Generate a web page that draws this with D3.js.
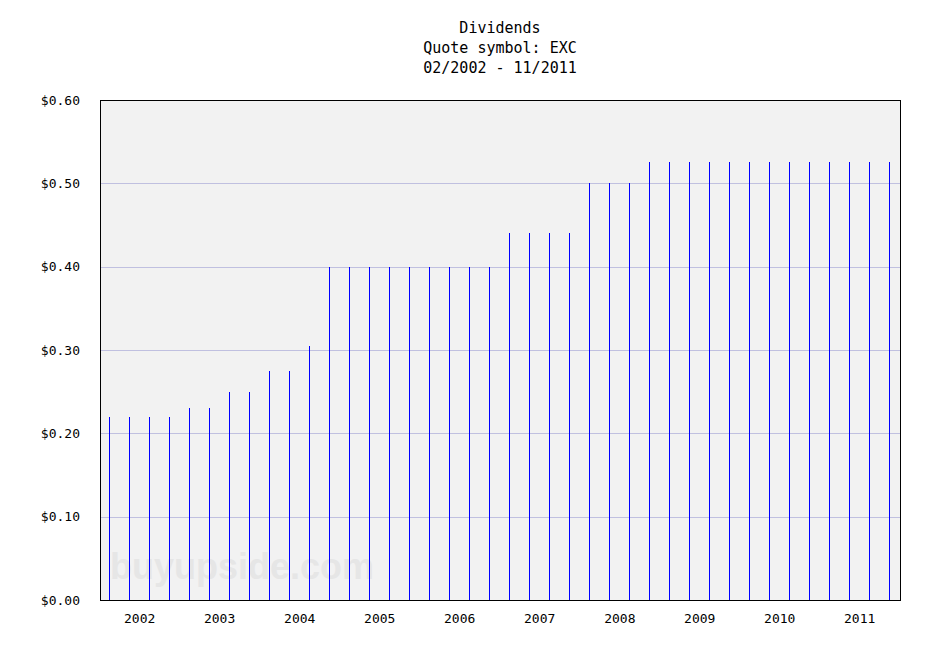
<!DOCTYPE html>
<html><head><meta charset="utf-8">
<script src="https://cdn.jsdelivr.net/npm/d3@7"></script>
<style>body{margin:0;background:#fff}</style>
</head><body>
<svg id="c" width="950" height="650"></svg>
<script>
const dates = ["2002-02-10","2002-05-12","2002-08-12","2002-11-12",
"2003-02-10","2003-05-12","2003-08-12","2003-11-12",
"2004-02-10","2004-05-12","2004-08-12","2004-11-12",
"2005-02-10","2005-05-12","2005-08-12","2005-11-12",
"2006-02-10","2006-05-12","2006-08-12","2006-11-12",
"2007-02-10","2007-05-12","2007-08-12","2007-11-12",
"2008-02-10","2008-05-12","2008-08-12","2008-11-12",
"2009-02-10","2009-05-12","2009-08-12","2009-11-12",
"2010-02-10","2010-05-12","2010-08-12","2010-11-12",
"2011-02-10","2011-05-12","2011-08-12","2011-11-12"];
const dividends = [0.22,0.22,0.22,0.22,
0.23,0.23,0.25,0.25,
0.275,0.275,0.305,0.40,
0.40,0.40,0.40,0.40,
0.40,0.40,0.40,0.40,
0.44,0.44,0.44,0.44,
0.50,0.50,0.50,0.525,
0.525,0.525,0.525,0.525,
0.525,0.525,0.525,0.525,
0.525,0.525,0.525,0.525];
const yTicks = [0,0.1,0.2,0.3,0.4,0.5,0.6];
const yearLabels = ["2002","2003","2004","2005","2006","2007","2008","2009","2010","2011"];
const titleLines = ["Dividends","Quote symbol: EXC","02/2002 - 11/2011"];

const svg = d3.select("#c");
const L=100,R=900,T=100,B=600;
const parse = d3.timeParse("%Y-%m-%d");
const x = d3.scaleTime().domain([new Date(2002,0,1), new Date(2012,0,1)]).range([L,R]);
const y = d3.scaleLinear().domain([0,0.6]).range([B,T]);
const font = "'DejaVu Sans Mono', monospace";

svg.append("rect").attr("x",L).attr("y",T).attr("width",R-L).attr("height",B-T).attr("fill","#f2f2f2");

svg.append("text").attr("x",110).attr("y",579).attr("font-family","'Liberation Sans', Arial, sans-serif")
  .attr("font-weight","bold").attr("font-size",36).attr("fill","#e6e6e6")
  .attr("textLength",264).attr("lengthAdjust","spacingAndGlyphs").text("buyupside.com");

svg.append("g").attr("shape-rendering","crispEdges").selectAll("rect").data(yTicks.filter(d=>d>0 && d<0.6)).join("rect")
  .attr("x",L).attr("width",R-L).attr("y",d=>Math.round(y(d))).attr("height",1)
  .attr("fill","#c0c0e0");

svg.append("g").attr("shape-rendering","crispEdges").selectAll("rect").data(dates.map((d,i)=>({d:parse(d),v:dividends[i]}))).join("rect")
  .attr("x",d=>Math.round(x(d.d))).attr("width",1)
  .attr("y",d=>Math.round(y(d.v))).attr("height",d=>B-Math.round(y(d.v)))
  .attr("fill","#0000ff");

svg.append("rect").attr("shape-rendering","crispEdges").attr("x",L+0.5).attr("y",T+0.5).attr("width",R-L).attr("height",B-T)
  .attr("fill","none").attr("stroke","#000").attr("stroke-width",1);

svg.append("g").selectAll("text").data(yTicks).join("text")
  .attr("x",80).attr("y",d=>y(d)).attr("dy","0.35em").attr("text-anchor","end")
  .attr("font-family",font).attr("font-size",13).attr("fill","#000")
  .text(d=>"$"+d.toFixed(2));

svg.append("g").selectAll("text").data(yearLabels).join("text")
  .attr("x",d=>x(new Date(+d,6,1))).attr("y",618).attr("dy","0.35em").attr("text-anchor","middle")
  .attr("font-family",font).attr("font-size",13).attr("fill","#000").text(d=>d);

svg.append("g").selectAll("text").data(titleLines).join("text")
  .attr("x",500).attr("y",(d,i)=>28+i*20).attr("dy","0.35em").attr("text-anchor","middle")
  .attr("font-family",font).attr("font-size",15).attr("fill","#000").text(d=>d);
</script>
</body></html>
